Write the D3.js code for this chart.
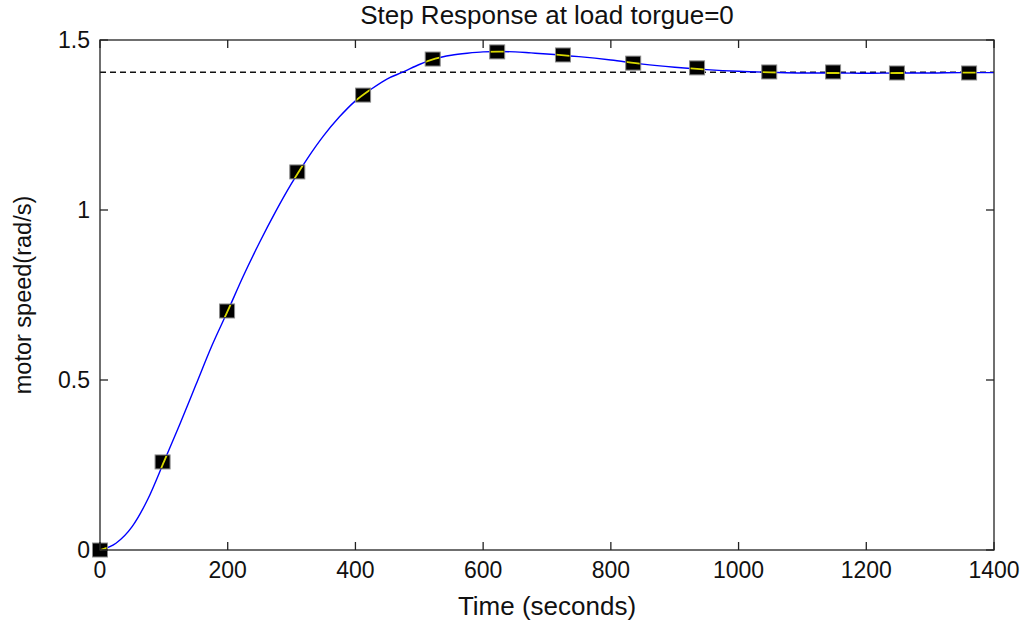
<!DOCTYPE html>
<html>
<head>
<meta charset="utf-8">
<script src="https://cdn.jsdelivr.net/npm/d3@7"></script>
<style>
  body { margin: 0; background: #fff; }
  text { font-family: "Liberation Sans", Arial, sans-serif; fill: #111; }
</style>
</head>
<body>
<div id="chart"></div>
<script>
// curve (time in seconds, speed in rad/s)
const timeS = [0, 25, 50, 75, 100, 125, 150, 175, 200, 225, 250, 275, 300, 325, 350, 375, 400, 425, 450, 475, 500, 525, 550, 575, 600, 625, 650, 675, 700, 750, 800, 850, 900, 950, 1000, 1050, 1100, 1150, 1200, 1250, 1300, 1350, 1400];
const speed = [0, 0.02, 0.068, 0.15, 0.259, 0.37, 0.485, 0.6, 0.703, 0.808, 0.905, 0.995, 1.078, 1.152, 1.218, 1.274, 1.321, 1.356, 1.386, 1.406, 1.428, 1.445, 1.455, 1.461, 1.465, 1.466, 1.465, 1.462, 1.459, 1.451, 1.441, 1.429, 1.42, 1.413, 1.408, 1.405, 1.403, 1.403, 1.402, 1.403, 1.403, 1.404, 1.404];

// square markers
const markT = [0, 98, 199, 309, 412, 521, 622, 725, 835, 935, 1048, 1148, 1248, 1361];
const markV = [0, 0.259, 0.703, 1.112, 1.338, 1.444, 1.465, 1.456, 1.432, 1.418, 1.406, 1.406, 1.403, 1.403];

// steady state reference
const refLevel = 1.405;

const xTicks = [0, 200, 400, 600, 800, 1000, 1200, 1400];
const yTicks = [0, 0.5, 1, 1.5];

const width = 1026, height = 626;
const margin = { left: 100, right: 32, top: 40, bottom: 76 };

const svg = d3.select("#chart").append("svg")
  .attr("width", width)
  .attr("height", height);

const x = d3.scaleLinear().domain([0, 1400]).range([margin.left, width - margin.right]);
const y = d3.scaleLinear().domain([0, 1.5]).range([height - margin.bottom, margin.top]);

const line = d3.line()
  .x((d) => x(d[0]))
  .y((d) => y(d[1]))
  .curve(d3.curveMonotoneX);

const curve = timeS.map((t, i) => [t, speed[i]]);
const marks = markT.map((t, i) => [t, markV[i]]);

// dashed steady state line
svg.append("line")
  .attr("x1", x(0)).attr("x2", x(1400))
  .attr("y1", y(refLevel)).attr("y2", y(refLevel))
  .attr("stroke", "#111")
  .attr("stroke-width", 1.4)
  .attr("stroke-dasharray", "6,4");

// blue response
svg.append("path")
  .datum(curve)
  .attr("d", line)
  .attr("fill", "none")
  .attr("stroke", "#0000ff")
  .attr("stroke-width", 1.4);

const mw = 15, mh = 14;

// marker boxes
svg.append("g")
  .selectAll("rect")
  .data(marks)
  .join("rect")
  .attr("x", (d) => x(d[0]) - mw / 2)
  .attr("y", (d) => y(d[1]) - mh / 2)
  .attr("width", mw)
  .attr("height", mh)
  .attr("fill", "#000")
  .attr("stroke", "#8a8a8a")
  .attr("stroke-width", 1);

// yellow line shows only inside the markers
svg.append("clipPath")
  .attr("id", "markClip")
  .selectAll("rect")
  .data(marks)
  .join("rect")
  .attr("x", (d) => x(d[0]) - mw / 2 + 1)
  .attr("y", (d) => y(d[1]) - mh / 2 + 1)
  .attr("width", mw - 2)
  .attr("height", mh - 2);

svg.append("path")
  .datum(curve)
  .attr("d", line)
  .attr("fill", "none")
  .attr("stroke", "#d8d800")
  .attr("stroke-width", 1.8)
  .attr("clip-path", "url(#markClip)");

// axes box with inward ticks on all sides
const ax = svg.append("g").attr("stroke", "#222").attr("stroke-width", 1.3);
ax.append("rect")
  .attr("x", x(0)).attr("y", y(1.5))
  .attr("width", x(1400) - x(0)).attr("height", y(0) - y(1.5))
  .attr("fill", "none");

const tl = 8;
xTicks.forEach((t) => {
  ax.append("line").attr("x1", x(t)).attr("x2", x(t)).attr("y1", y(0)).attr("y2", y(0) - tl);
  ax.append("line").attr("x1", x(t)).attr("x2", x(t)).attr("y1", y(1.5)).attr("y2", y(1.5) + tl);
});
yTicks.forEach((v) => {
  ax.append("line").attr("x1", x(0)).attr("x2", x(0) + tl).attr("y1", y(v)).attr("y2", y(v));
  ax.append("line").attr("x1", x(1400)).attr("x2", x(1400) - tl).attr("y1", y(v)).attr("y2", y(v));
});

// tick labels
svg.append("g")
  .selectAll("text")
  .data(xTicks)
  .join("text")
  .attr("x", (d) => x(d))
  .attr("y", y(0) + 28)
  .attr("text-anchor", "middle")
  .attr("font-size", "23px")
  .text((d) => d);

svg.append("g")
  .selectAll("text")
  .data(yTicks)
  .join("text")
  .attr("x", x(0) - 10)
  .attr("y", (d) => y(d) + 8)
  .attr("text-anchor", "end")
  .attr("font-size", "23px")
  .text((d) => d);

// title and axis labels
svg.append("text")
  .attr("x", (x(0) + x(1400)) / 2)
  .attr("y", 24)
  .attr("text-anchor", "middle")
  .attr("font-size", "26px")
  .text("Step Response at load torgue=0");

svg.append("text")
  .attr("x", (x(0) + x(1400)) / 2)
  .attr("y", 615)
  .attr("text-anchor", "middle")
  .attr("font-size", "26px")
  .text("Time (seconds)");

svg.append("text")
  .attr("transform", `translate(31,${(y(0) + y(1.5)) / 2}) rotate(-90)`)
  .attr("text-anchor", "middle")
  .attr("font-size", "23.5px")
  .text("motor speed(rad/s)");
</script>
</body>
</html>
